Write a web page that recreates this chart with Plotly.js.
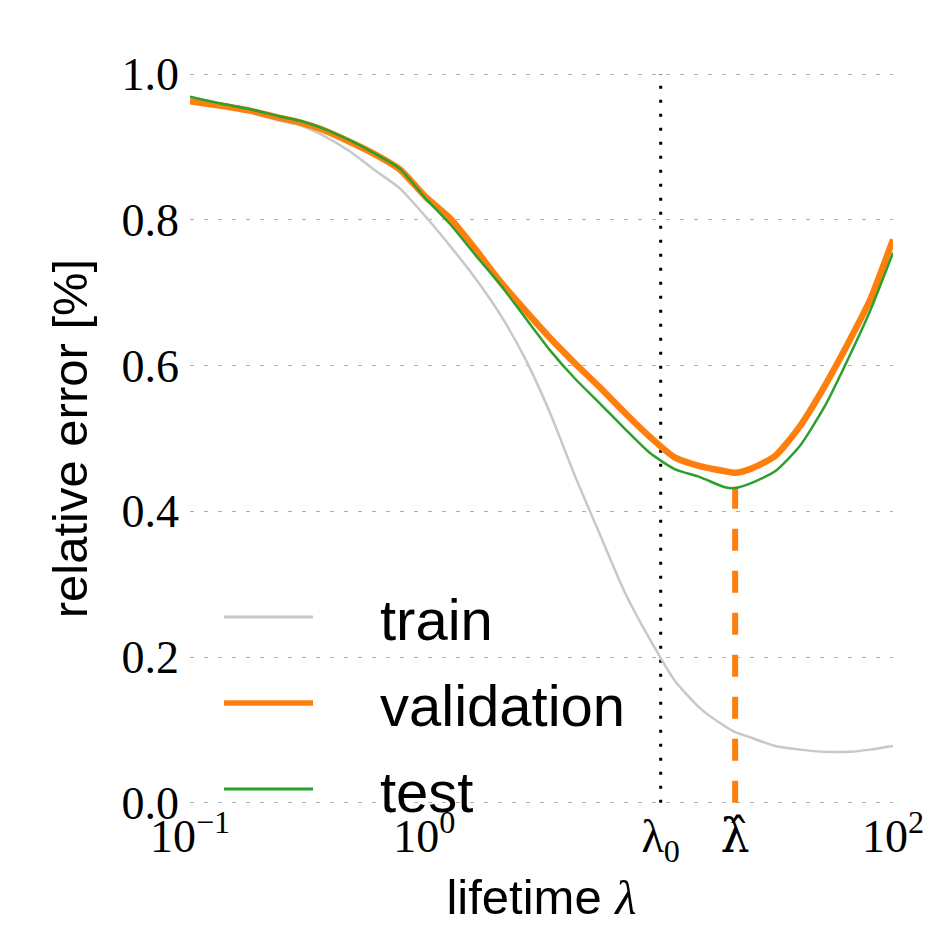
<!DOCTYPE html>
<html>
<head>
<meta charset="utf-8">
<script src="https://cdn.plot.ly/plotly-3.0.1.min.js"></script>
<style>html,body{margin:0;padding:0;background:#fff;}#chart{width:926px;height:927px;}</style>
</head>
<body>
<div id="chart"></div>
<script>
// lifetime lambda (x values, log scale)
const lifetime = [0.1, 0.134, 0.180, 0.242, 0.294, 0.359, 0.482, 0.616, 0.788, 1.01, 1.29, 1.65, 2.10, 2.69, 3.44, 4.40, 5.62, 7.19, 9.19, 11.7, 15.0, 19.2, 21.2, 24.5, 31.4, 40.1, 51.3, 65.6, 79.8, 100];
// relative error values
const trainErr = [0.963, 0.955, 0.948, 0.936, 0.930, 0.918, 0.894, 0.868, 0.843, 0.805, 0.764, 0.720, 0.671, 0.610, 0.535, 0.448, 0.368, 0.288, 0.224, 0.168, 0.130, 0.105, 0.097, 0.090, 0.078, 0.073, 0.070, 0.070, 0.073, 0.078];
const validationErr = [0.963, 0.957, 0.950, 0.940, 0.934, 0.925, 0.907, 0.890, 0.869, 0.832, 0.802, 0.760, 0.716, 0.676, 0.638, 0.603, 0.570, 0.535, 0.502, 0.474, 0.462, 0.455, 0.453, 0.458, 0.476, 0.517, 0.573, 0.636, 0.690, 0.773];
const testErr = [0.969, 0.960, 0.952, 0.942, 0.936, 0.927, 0.909, 0.891, 0.870, 0.830, 0.794, 0.752, 0.712, 0.666, 0.621, 0.582, 0.548, 0.513, 0.480, 0.458, 0.447, 0.433, 0.432, 0.438, 0.455, 0.490, 0.545, 0.615, 0.675, 0.755];
const seriesNames = ["train", "validation", "test"];
const seriesColors = ["#c8c8c8", "#ff7f0e", "#2ca02c"];
const seriesWidths = [2.5, 6.5, 2.5];
const lambda0 = 10.2;
const yTickVals = [0.0, 0.2, 0.4, 0.6, 0.8, 1.0];

// lambda-hat = lifetime at the minimum validation error
let iMin = 0;
validationErr.forEach((v, i) => { if (v < validationErr[iMin]) iMin = i; });
const lambdaHat = lifetime[iMin];
const xTickVals = [0.1, 1, lambda0, lambdaHat, 100];
const xTickText = ["10<sup>−1</sup>", "10<sup>0</sup>", "λ<sub>0</sub>",
                   "<span style=\"font-family:'DejaVu Serif'\">λ̂</span>", "10<sup>2</sup>"];

const seriesY = [trainErr, validationErr, testErr];
const traces = [
  {x: [lambda0, lambda0], y: [0, 1], mode: "lines", showlegend: false, hoverinfo: "skip",
   line: {color: "#000", width: 3, dash: "3px,11px"}},
  {x: [lambdaHat, lambdaHat], y: [0, validationErr[iMin]], mode: "lines", showlegend: false, hoverinfo: "skip",
   line: {color: "#ff7f0e", width: 6, dash: "22px,20px"}}
];
seriesNames.forEach((n, k) => traces.push({
  x: lifetime, y: seriesY[k], name: n, mode: "lines", showlegend: false,
  line: {color: seriesColors[k], width: seriesWidths[k], shape: "spline", smoothing: 0.6}
}));

// legend drawn as line samples + labels (paper coordinates)
const legendRowsY = [0.2565, 0.1392, 0.0218];
const shapes = [], annotations = [];
seriesNames.forEach((n, k) => {
  shapes.push({type: "line", xref: "paper", yref: "paper", x0: 0.0484, x1: 0.175,
               y0: legendRowsY[k], y1: legendRowsY[k],
               line: {color: seriesColors[k], width: k === 1 ? 5.5 : 3}});
  annotations.push({xref: "paper", yref: "paper", x: 0.2674, y: legendRowsY[k] - 0.004,
                    xanchor: "left", yanchor: "middle", showarrow: false, text: n,
                    font: {family: "Liberation Sans, Arial, sans-serif", size: 58, color: "#000"}});
});

const layout = {
  width: 926, height: 927,
  margin: {l: 190, r: 33, t: 72, b: 122},
  paper_bgcolor: "#fff", plot_bgcolor: "#fff",
  showlegend: false,
  shapes: shapes, annotations: annotations,
  xaxis: {type: "log", range: [-1, 2], showgrid: false, zeroline: false, showline: false,
          tickvals: xTickVals, ticktext: xTickText, ticks: "",
          tickfont: {family: "Liberation Serif, serif", size: 46, color: "#000"},
          title: {text: "lifetime <span style=\"font-family:'Liberation Serif'\"><i>λ</i></span>",
                  font: {family: "Liberation Sans, Arial, sans-serif", size: 49, color: "#000"}, standoff: 12}},
  yaxis: {range: [-0.003, 1.003], tickvals: yTickVals, tickformat: ".1f", ticks: "", zeroline: false, showline: false,
          showgrid: true, gridcolor: "#b0b0b0", gridwidth: 1, griddash: "4px,10px",
          ticklabelstandoff: 10,
          tickfont: {family: "Liberation Serif, serif", size: 46, color: "#000"},
          title: {text: "relative error [%]",
                  font: {family: "Liberation Sans, Arial, sans-serif", size: 49, color: "#000"}, standoff: 18}}
};

Plotly.newPlot("chart", traces, layout, {displayModeBar: false, staticPlot: true});
</script>
</body>
</html>
